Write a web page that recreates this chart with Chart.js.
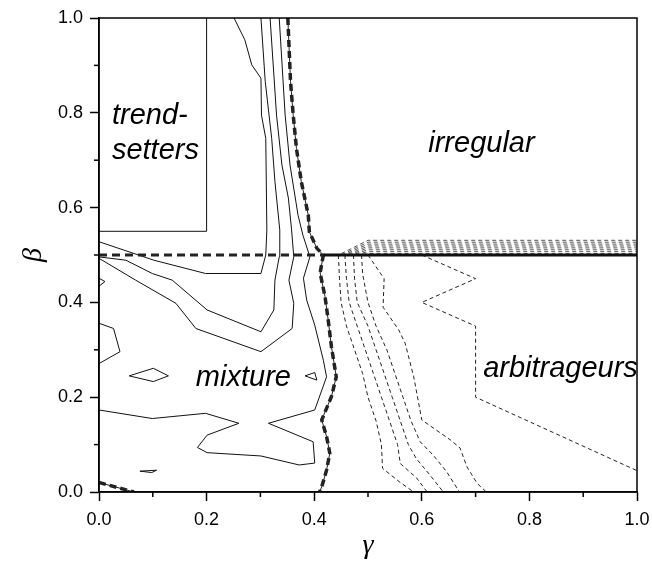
<!DOCTYPE html>
<html><head><meta charset="utf-8">
<script src="https://cdn.jsdelivr.net/npm/chart.js@4.4.1/dist/chart.umd.min.js"></script>
<style>html,body{margin:0;padding:0;background:#fff;}#wrap{width:652px;height:572px;}</style>
</head><body><div id="wrap"><canvas id="c" width="652" height="572"></canvas></div>
<script>
// ---- axis ticks ----
const xTickValues = [0, 0.2, 0.4, 0.6, 0.8, 1.0];
const yTickValues = [0, 0.2, 0.4, 0.6, 0.8, 1.0];
const minorTickValues = [0.1, 0.3, 0.5, 0.7, 0.9];

// ---- contour lines: [gamma, beta] ----
const trendsetterEdge = [[0,0.55],[0.2,0.55],[0.2,1.0]];
const contourA = [[0.251,1.0],[0.271,0.954],[0.284,0.901],[0.301,0.873],[0.302,0.795],[0.310,0.746],[0.312,0.553],[0.310,0.5],[0.301,0.461],[0.198,0.461],[0.102,0.489],[0,0.528]];
const contourB = [[0,0.496],[0.050,0.489],[0.099,0.461],[0.136,0.447],[0.201,0.384],[0.301,0.338],[0.325,0.384],[0.327,0.447],[0.335,0.496],[0.336,0.553],[0.327,0.655],[0.321,0.746],[0.309,0.866],[0.301,1.0]];
const contourC = [[0,0.493],[0.068,0.447],[0.143,0.398],[0.180,0.345],[0.301,0.296],[0.359,0.345],[0.362,0.398],[0.353,0.447],[0.362,0.496],[0.358,0.553],[0.352,0.620],[0.340,0.690],[0.330,0.795],[0.318,1.0]];
const contourD = [[0.335,1.0],[0.346,0.795],[0.355,0.690],[0.370,0.584],[0.379,0.542],[0.392,0.496],[0.380,0.451],[0.386,0.405],[0.401,0.352],[0.417,0.278],[0.423,0.243],[0.401,0.173],[0.315,0.145],[0.398,0.106],[0.401,0.061],[0.372,0.057],[0.301,0.076],[0.201,0.083],[0.183,0.094],[0.201,0.120],[0.260,0.145],[0.198,0.166],[0.099,0.155],[0,0.173]];
const edgeNotch = [[0,0.451],[0.011,0.444],[0,0.434]];
const edgeLoop = [[0,0.356],[0.027,0.345],[0.039,0.296],[0,0.271]];
const diamondLoop = [[0.056,0.245],[0.101,0.261],[0.129,0.245],[0.101,0.233],[0.056,0.245]];
const triangleLoop = [[0.383,0.245],[0.401,0.252],[0.405,0.236],[0.383,0.245]];
const sliverLoop = [[0.076,0.044],[0.107,0.046],[0.098,0.041],[0.076,0.044]];

// boundaries (bold)
const boundaryVertical = [[0.351,1.0],[0.356,0.866],[0.361,0.795],[0.367,0.725],[0.376,0.655],[0.389,0.584],[0.391,0.549],[0.405,0.514],[0.417,0.5],[0.411,0.462],[0.420,0.413],[0.426,0.363],[0.432,0.307],[0.441,0.243],[0.432,0.201],[0.414,0.152],[0.423,0.117],[0.429,0.082],[0.423,0.046],[0.414,0.011],[0.41,0]];
const boundaryCorner = [[0,0.02],[0.065,0]];
const boundaryHorizontal = [[0,0.5],[0.417,0.5]];
const solidHorizontal = [[0.417,0.5],[1.0,0.5]];

// arbitrageur dashed contours
const dashL1 = [[0.445,0.5],[0.447,0.45],[0.45,0.40],[0.46,0.35],[0.475,0.30],[0.49,0.25],[0.50,0.20],[0.515,0.15],[0.525,0.10],[0.527,0.05],[0.56,0.02],[0.585,0]];
const dashL2 = [[0.457,0.5],[0.46,0.45],[0.465,0.40],[0.48,0.35],[0.495,0.30],[0.51,0.25],[0.525,0.20],[0.54,0.15],[0.555,0.10],[0.56,0.06],[0.59,0.03],[0.61,0]];
const dashL3 = [[0.473,0.5],[0.475,0.45],[0.48,0.40],[0.50,0.35],[0.515,0.30],[0.53,0.25],[0.545,0.20],[0.56,0.15],[0.575,0.10],[0.59,0.07],[0.615,0.036],[0.64,0]];
const dashL4 = [[0.488,0.5],[0.49,0.46],[0.50,0.40],[0.515,0.35],[0.535,0.30],[0.55,0.25],[0.565,0.20],[0.58,0.15],[0.597,0.106],[0.621,0.078],[0.646,0.043],[0.67,0]];
const dashL5 = [[0.50,0.5],[0.53,0.45],[0.528,0.39],[0.557,0.342],[0.569,0.314],[0.585,0.243],[0.600,0.152],[0.653,0.110],[0.671,0.093],[0.684,0.053],[0.703,0.018],[0.72,0]];
const dashOuter = [[0.6,0.5],[0.7,0.45],[0.6,0.4],[0.7,0.35],[0.7,0.2],[1.0,0.045]];
const stackLevels = [0.503,0.507,0.511,0.515,0.519,0.523,0.527,0.531];
const stackStarts = [0.48,0.475,0.47,0.465,0.46,0.455,0.45,0.445];

const regionLabels = [
  {text:'trend-', g:0.024, b:0.776},
  {text:'setters', g:0.024, b:0.703},
  {text:'irregular', g:0.612, b:0.718},
  {text:'mixture', g:0.180, b:0.224},
  {text:'arbitrageurs', g:0.714, b:0.243}
];

// ---- build datasets ----
const toXY = arr => arr.map(p => ({x:p[0], y:p[1]}));
const thin = arr => ({data:toXY(arr), borderColor:'#111', borderWidth:1, order:3});
const dashed = (arr, c) => ({data:toXY(arr), borderColor:c || '#222', borderWidth:1, borderDash:[4,3], order:3});
const datasets = [];
[trendsetterEdge, contourA, contourB, contourC, contourD, edgeNotch, edgeLoop, diamondLoop, triangleLoop, sliverLoop].forEach(a => datasets.push(thin(a)));
[dashL1, dashL2, dashL3, dashL4, dashL5, dashOuter].forEach(a => datasets.push(dashed(a)));
stackLevels.forEach((lv, i) => datasets.push(dashed([[0.425,0.5],[stackStarts[i],0.5],[0.5,lv],[1.0,lv]], '#555')));
datasets.push({data:toXY(solidHorizontal), borderColor:'#111', borderWidth:3, order:1});
[boundaryVertical, boundaryCorner].forEach(a => {
  datasets.push({data:toXY(a), borderColor:'#222', borderWidth:1, order:2});
  datasets.push({data:toXY(a), borderColor:'#222', borderWidth:3.5, borderDash:[7,4], order:1});
});
datasets.push({data:toXY(boundaryHorizontal), borderColor:'#222', borderWidth:3, borderDash:[8,5], order:1});
datasets.forEach(d => { d.showLine = true; d.pointRadius = 0; d.tension = 0; d.fill = false; });

const frameAndExtras = {
  id:'frameAndExtras',
  afterDraw(chart){
    const {ctx, chartArea:a, scales:{x, y}} = chart;
    ctx.save();
    ctx.strokeStyle = '#000'; ctx.lineWidth = 1.5;
    ctx.strokeRect(a.left, a.top, a.right - a.left, a.bottom - a.top);
    minorTickValues.forEach(v => {
      const px = x.getPixelForValue(v);
      ctx.beginPath(); ctx.moveTo(px, a.bottom); ctx.lineTo(px, a.bottom + 5); ctx.stroke();
      const py = y.getPixelForValue(v);
      ctx.beginPath(); ctx.moveTo(a.left, py); ctx.lineTo(a.left - 5, py); ctx.stroke();
    });
    ctx.fillStyle = '#000';
    ctx.font = 'italic 29px "Liberation Sans", Arial, sans-serif';
    ctx.textAlign = 'left'; ctx.textBaseline = 'alphabetic';
    regionLabels.forEach(l => ctx.fillText(l.text, x.getPixelForValue(l.g), y.getPixelForValue(l.b)));
    ctx.restore();
  }
};

new Chart(document.getElementById('c'), {
  type:'line',
  data:{datasets},
  options:{
    responsive:false, animation:false, devicePixelRatio:1,
    layout:{padding:{top:18, right:15, left:0, bottom:0}},
    plugins:{legend:{display:false}, tooltip:{enabled:false}},
    scales:{
      x:{type:'linear', position:'bottom', min:0, max:1,
        afterBuildTicks: s => { s.ticks = xTickValues.map(v => ({value:v})); },
        afterFit: s => { s.height = 80; s.paddingLeft = 0; s.paddingRight = 0; },
        ticks:{callback: v => Number(v).toFixed(1), font:{family:'"Liberation Sans", Arial', size:18}, color:'#000', padding:8, maxRotation:0, autoSkip:false},
        grid:{display:true, drawOnChartArea:false, drawTicks:true, tickLength:9, tickColor:'#000', tickWidth:1.5},
        border:{display:true, color:'#000', width:1.5},
        title:{display:true, text:'γ', color:'#000', font:{family:'"Liberation Serif", "Times New Roman", serif', style:'italic', size:28}, padding:{top:0, bottom:10}}
      },
      y:{type:'linear', position:'left', min:0, max:1,
        afterBuildTicks: s => { s.ticks = yTickValues.map(v => ({value:v})); },
        afterFit: s => { s.width = 99; s.paddingTop = 0; s.paddingBottom = 0; },
        ticks:{callback: v => Number(v).toFixed(1), font:{family:'"Liberation Sans", Arial', size:18}, color:'#000', padding:7, autoSkip:false},
        grid:{display:true, drawOnChartArea:false, drawTicks:true, tickLength:9, tickColor:'#000', tickWidth:1.5},
        border:{display:true, color:'#000', width:1.5},
        title:{display:true, text:'β', color:'#000', font:{family:'"Liberation Serif", "Times New Roman", serif', style:'italic', size:28}, padding:{top:17, bottom:0}}
      }
    }
  },
  plugins:[frameAndExtras]
});
</script></body></html>
